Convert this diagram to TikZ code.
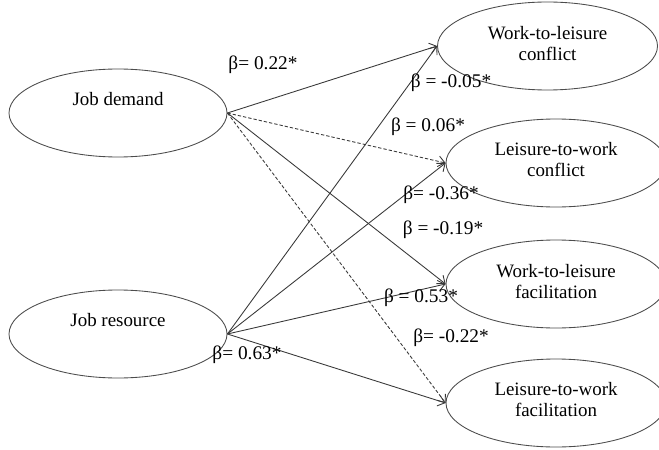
\documentclass[tikz,border=0pt]{standalone}
\usepackage{fontspec}
\setmainfont{Liberation Serif}
\usetikzlibrary{shapes.geometric,arrows.meta}
\definecolor{ln}{HTML}{383838}
\begin{document}
\begin{tikzpicture}[x=0.75pt,y=-0.75pt,
  ell/.style={draw=ln!90,line width=0.65pt,ellipse,inner sep=0pt,minimum width=165pt,minimum height=66pt},
  lell/.style={ell,minimum width=163.5pt},
  txt/.style={align=center,font=\fontsize{14.2}{15.75}\selectfont,inner sep=0pt},
  lab/.style={font=\fontsize{14.5}{16}\selectfont,inner sep=0pt},
  conn/.style={draw=ln,line width=0.65pt,-{Straight Barb[length=5pt,width=8pt]}},
  dconn/.style={conn,dash pattern=on 2.5pt off 1.5pt}]
\useasboundingbox (0,0) rectangle (659,449);
\fill[white] (0,0) rectangle (659,449);
% left ellipses
\node[lell] (jd) at (118,113) {};
\node[txt] (jdt) at (118,99) {Job demand};
\node[lell] (jr) at (118,334) {};
\node[txt] (jrt) at (118,320) {Job resource};
% right ellipses
\node[ell] (wlc) at (547.5,46) {};
\node[txt] (wlct) at (547.5,43.5) {Work-to-leisure\\conflict};
\node[ell] (lwc) at (556,163) {};
\node[txt] (lwct) at (556,159.5) {Leisure-to-work\\conflict};
\node[ell] (wlf) at (556,284) {};
\node[txt] (wlft) at (556,281.5) {Work-to-leisure\\facilitation};
\node[ell] (lwf) at (556,403) {};
\node[txt] (lwft) at (556,400) {Leisure-to-work\\facilitation};
% connectors
\draw[conn] (jd.east) -- (wlc.west);
\draw[dconn] (jd.east) -- (lwc.west);
\draw[conn] (jd.east) -- (wlf.west);
\draw[dconn] (jd.east) -- (lwf.west);
\draw[conn] (jr.east) -- (wlc.west);
\draw[conn] (jr.east) -- (lwc.west);
\draw[conn] (jr.east) -- (wlf.west);
\draw[conn] (jr.east) -- (lwf.west);
% labels
\node[lab] (l1) at (263,65) {β= 0.22*};
\node[lab] (l2) at (451,83) {β = -0.05*};
\node[lab] (l3) at (428,127) {β = 0.06*};
\node[lab] (l4) at (441,195) {β= -0.36*};
\node[lab] (l5) at (443,230) {β = -0.19*};
\node[lab] (l6) at (421,298) {β = 0.53*};
\node[lab] (l7) at (451,338) {β= -0.22*};
\node[lab] (l8) at (247,355) {β= 0.63*};
\end{tikzpicture}
\end{document}
